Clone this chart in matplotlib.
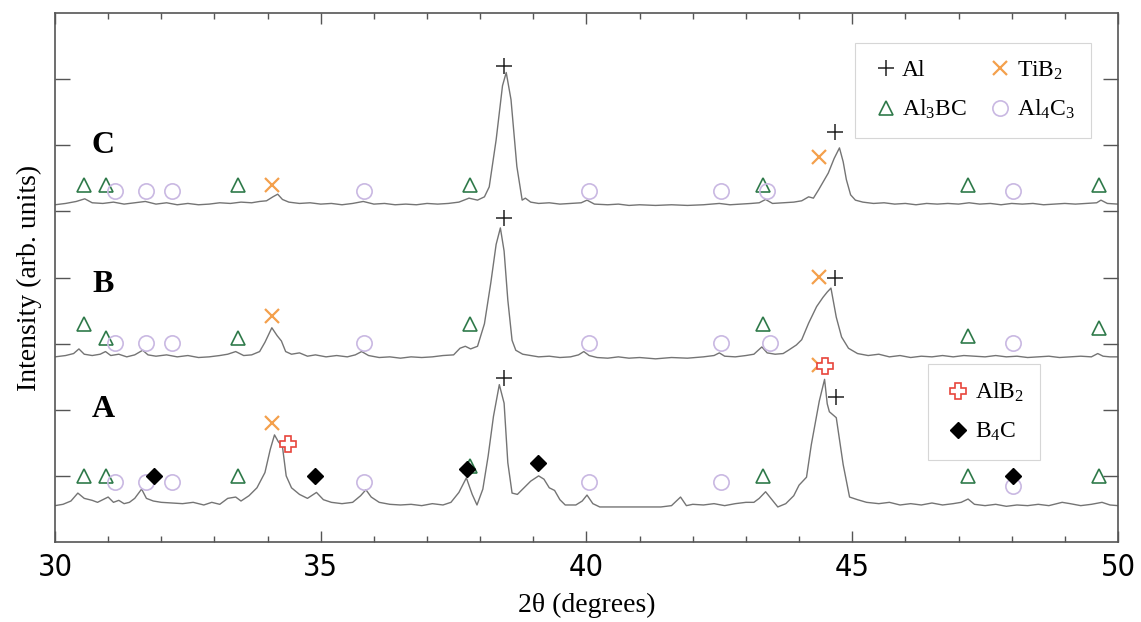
import matplotlib.pyplot as plt
from matplotlib.lines import Line2D
from matplotlib import font_manager

plt.rcParams.update({
    'font.family': ['Liberation Serif', 'DejaVu Serif'],
    'mathtext.fontset': 'custom',
    'mathtext.rm': 'Liberation Serif',
    'mathtext.default': 'regular',
})

# XRD traces (2theta, offset intensity)
curve_a = [
    (30.0, 0.55), (30.15, 0.57), (30.3, 0.62), (30.43, 0.74), (30.55, 0.66), (30.7, 0.63),
    (30.8, 0.6), (30.9, 0.64), (31.0, 0.68), (31.1, 0.6), (31.2, 0.63), (31.3, 0.58),
    (31.4, 0.6), (31.5, 0.66), (31.63, 0.8), (31.72, 0.66), (31.85, 0.62), (32.0, 0.6),
    (32.2, 0.59), (32.4, 0.58), (32.6, 0.6), (32.8, 0.56), (32.95, 0.6), (33.1, 0.57),
    (33.25, 0.66), (33.4, 0.68), (33.5, 0.62), (33.65, 0.7), (33.8, 0.82), (33.95, 1.05),
    (34.05, 1.4), (34.13, 1.62), (34.2, 1.52), (34.28, 1.44), (34.35, 1.0), (34.45, 0.82),
    (34.6, 0.72), (34.75, 0.66), (34.92, 0.75), (35.05, 0.64), (35.2, 0.6), (35.4, 0.58),
    (35.6, 0.6), (35.75, 0.7), (35.85, 0.79), (35.95, 0.68), (36.1, 0.6), (36.3, 0.57),
    (36.5, 0.56), (36.7, 0.57), (36.9, 0.55), (37.1, 0.58), (37.3, 0.56), (37.45, 0.6),
    (37.6, 0.75), (37.74, 0.97), (37.85, 0.72), (37.94, 0.56), (38.05, 0.8), (38.15, 1.3),
    (38.25, 1.9), (38.36, 2.38), (38.45, 2.1), (38.52, 1.2), (38.6, 0.74), (38.7, 0.72),
    (38.8, 0.8), (38.95, 0.92), (39.1, 1.0), (39.2, 0.95), (39.3, 0.82), (39.4, 0.78),
    (39.5, 0.64), (39.6, 0.56), (39.8, 0.56), (39.92, 0.62), (40.01, 0.71), (40.12, 0.58),
    (40.25, 0.53), (40.6, 0.53), (41.0, 0.53), (41.4, 0.53), (41.6, 0.55), (41.77, 0.68),
    (41.88, 0.55), (42.0, 0.57), (42.2, 0.56), (42.4, 0.58), (42.6, 0.55), (42.8, 0.58),
    (43.0, 0.6), (43.15, 0.6), (43.25, 0.66), (43.37, 0.76), (43.48, 0.65), (43.6, 0.53),
    (43.75, 0.58), (43.9, 0.7), (44.0, 0.86), (44.14, 0.98), (44.23, 1.47), (44.38, 2.13),
    (44.48, 2.46), (44.53, 2.09), (44.57, 1.97), (44.7, 1.88), (44.83, 1.17), (44.95, 0.68),
    (45.1, 0.64), (45.27, 0.6), (45.5, 0.58), (45.7, 0.6), (45.9, 0.56), (46.1, 0.58),
    (46.3, 0.56), (46.5, 0.59), (46.7, 0.56), (46.9, 0.58), (47.05, 0.6), (47.18, 0.65),
    (47.3, 0.57), (47.5, 0.55), (47.7, 0.57), (47.9, 0.54), (48.1, 0.56), (48.3, 0.55),
    (48.5, 0.57), (48.7, 0.55), (48.95, 0.6), (49.1, 0.58), (49.3, 0.55), (49.5, 0.57),
    (49.7, 0.6), (49.85, 0.56), (50.0, 0.55),
]

curve_b = [
    (30.0, 2.8), (30.2, 2.82), (30.35, 2.85), (30.45, 2.92), (30.55, 2.84), (30.7, 2.82),
    (30.85, 2.84), (30.95, 2.88), (31.05, 2.82), (31.2, 2.84), (31.35, 2.8), (31.5, 2.83),
    (31.65, 2.9), (31.75, 2.83), (31.9, 2.81), (32.1, 2.83), (32.3, 2.8), (32.5, 2.82),
    (32.7, 2.79), (32.9, 2.8), (33.1, 2.82), (33.25, 2.84), (33.4, 2.88), (33.55, 2.82),
    (33.7, 2.83), (33.85, 2.88), (33.95, 3.02), (34.08, 3.24), (34.18, 3.12), (34.26, 3.04),
    (34.34, 2.88), (34.45, 2.84), (34.6, 2.86), (34.75, 2.81), (34.9, 2.83), (35.1, 2.8),
    (35.3, 2.82), (35.5, 2.8), (35.65, 2.83), (35.77, 2.88), (35.9, 2.82), (36.1, 2.79),
    (36.3, 2.8), (36.5, 2.78), (36.7, 2.8), (36.9, 2.79), (37.1, 2.8), (37.3, 2.82),
    (37.5, 2.83), (37.62, 2.93), (37.72, 2.96), (37.82, 2.92), (37.95, 2.96), (38.08, 3.3),
    (38.2, 3.92), (38.3, 4.5), (38.38, 4.75), (38.45, 4.4), (38.52, 3.66), (38.6, 3.05),
    (38.67, 2.9), (38.8, 2.84), (38.95, 2.82), (39.1, 2.8), (39.3, 2.81), (39.5, 2.79),
    (39.7, 2.8), (39.85, 2.83), (39.95, 2.88), (40.05, 2.82), (40.2, 2.79), (40.4, 2.78),
    (40.6, 2.8), (40.8, 2.78), (41.0, 2.79), (41.3, 2.77), (41.6, 2.79), (41.9, 2.78),
    (42.2, 2.8), (42.4, 2.82), (42.5, 2.86), (42.6, 2.81), (42.8, 2.8), (43.0, 2.82),
    (43.15, 2.84), (43.3, 2.95), (43.4, 2.86), (43.55, 2.84), (43.7, 2.85), (43.8, 2.9),
    (43.95, 2.98), (44.05, 3.06), (44.18, 3.31), (44.33, 3.56), (44.45, 3.7), (44.53, 3.78),
    (44.6, 3.84), (44.7, 3.4), (44.8, 3.1), (44.93, 2.93), (45.1, 2.85), (45.3, 2.82),
    (45.5, 2.84), (45.7, 2.8), (45.9, 2.82), (46.1, 2.79), (46.3, 2.81), (46.5, 2.8),
    (46.7, 2.82), (46.9, 2.8), (47.1, 2.82), (47.3, 2.81), (47.5, 2.8), (47.7, 2.82),
    (47.9, 2.8), (48.1, 2.81), (48.3, 2.79), (48.5, 2.8), (48.7, 2.81), (48.9, 2.79),
    (49.1, 2.8), (49.3, 2.81), (49.5, 2.8), (49.62, 2.85), (49.72, 2.81), (49.85, 2.8),
    (50.0, 2.8),
]

curve_c = [
    (30.0, 5.1), (30.2, 5.12), (30.4, 5.15), (30.56, 5.19), (30.7, 5.13), (30.9, 5.12),
    (31.1, 5.14), (31.3, 5.11), (31.5, 5.13), (31.7, 5.15), (31.9, 5.11), (32.1, 5.13),
    (32.3, 5.1), (32.5, 5.12), (32.7, 5.1), (32.9, 5.11), (33.1, 5.13), (33.3, 5.12),
    (33.5, 5.14), (33.7, 5.13), (33.85, 5.15), (33.98, 5.16), (34.1, 5.22), (34.19, 5.26),
    (34.28, 5.18), (34.4, 5.14), (34.6, 5.12), (34.8, 5.13), (35.0, 5.11), (35.2, 5.12),
    (35.4, 5.1), (35.6, 5.12), (35.8, 5.15), (36.0, 5.11), (36.2, 5.12), (36.4, 5.1),
    (36.6, 5.11), (36.8, 5.1), (37.0, 5.12), (37.2, 5.11), (37.4, 5.12), (37.6, 5.14),
    (37.79, 5.2), (37.95, 5.17), (38.08, 5.22), (38.17, 5.37), (38.3, 6.08), (38.42, 6.9),
    (38.49, 7.1), (38.58, 6.69), (38.69, 5.68), (38.79, 5.17), (38.85, 5.2), (38.95, 5.14),
    (39.1, 5.12), (39.3, 5.13), (39.5, 5.11), (39.7, 5.12), (39.9, 5.13), (40.01, 5.17),
    (40.15, 5.11), (40.4, 5.1), (40.6, 5.11), (40.8, 5.09), (41.0, 5.1), (41.3, 5.09),
    (41.6, 5.1), (41.9, 5.09), (42.2, 5.1), (42.5, 5.12), (42.7, 5.1), (42.9, 5.11),
    (43.1, 5.12), (43.25, 5.13), (43.37, 5.18), (43.5, 5.12), (43.7, 5.13), (43.9, 5.14),
    (44.05, 5.16), (44.18, 5.22), (44.27, 5.2), (44.37, 5.33), (44.55, 5.58), (44.66, 5.8),
    (44.76, 5.96), (44.83, 5.75), (44.89, 5.48), (44.97, 5.25), (45.06, 5.17), (45.2, 5.14),
    (45.4, 5.12), (45.6, 5.13), (45.8, 5.11), (46.0, 5.12), (46.2, 5.1), (46.4, 5.12),
    (46.6, 5.11), (46.8, 5.12), (47.0, 5.11), (47.2, 5.13), (47.4, 5.11), (47.6, 5.12),
    (47.8, 5.1), (48.0, 5.12), (48.2, 5.11), (48.4, 5.12), (48.6, 5.1), (48.8, 5.11),
    (49.0, 5.12), (49.2, 5.11), (49.4, 5.12), (49.6, 5.13), (49.68, 5.17), (49.8, 5.12),
    (50.0, 5.11),
]

# phase markers (2theta, height)
al_pts = [(38.45, 7.2), (44.67, 6.2), (38.45, 4.9), (44.67, 3.99), (38.45, 2.48), (44.7, 2.19)]
tib2_pts = [(34.09, 5.4), (44.37, 5.82), (34.09, 3.42), (44.38, 4.01), (34.09, 1.8), (44.38, 2.68)]
al3bc_pts = [
    (30.54, 5.4), (30.96, 5.4), (33.44, 5.4), (37.81, 5.4), (43.33, 5.4), (47.18, 5.4), (49.64, 5.4),
    (30.54, 3.3), (30.96, 3.09), (33.44, 3.09), (37.81, 3.3), (43.33, 3.3), (47.18, 3.12), (49.64, 3.24),
    (30.54, 1.0), (30.96, 1.0), (33.44, 1.0), (37.81, 1.15), (43.33, 1.0), (47.18, 1.0), (49.64, 1.0),
]
al4c3_pts = [
    (31.13, 5.31), (31.71, 5.31), (32.2, 5.31), (35.82, 5.31), (40.05, 5.31), (42.53, 5.31), (43.39, 5.31), (48.03, 5.31),
    (31.13, 3.01), (31.71, 3.01), (32.2, 3.01), (35.82, 3.01), (40.05, 3.01), (42.53, 3.01), (43.45, 3.01), (48.03, 3.01),
    (31.13, 0.91), (31.71, 0.91), (32.2, 0.91), (35.82, 0.91), (40.05, 0.91), (42.53, 0.91), (48.03, 0.85),
]
alb2_pts = [(34.38, 1.48), (44.48, 2.66)]
b4c_pts = [(31.86, 1.0), (34.9, 1.0), (37.76, 1.1), (39.09, 1.2), (48.03, 1.0)]

sample_labels = ['A', 'B', 'C']
label_pos = [(30.9, 2.0), (30.9, 3.89), (30.9, 6.0)]

fig = plt.figure(figsize=(11.41, 6.22), dpi=100)
ax = fig.add_axes([0.0482, 0.1286, 0.9316, 0.8505])

for curve in (curve_a, curve_b, curve_c):
    xs, ys = zip(*curve)
    ax.plot(xs, ys, color='#747474', lw=1.0, zorder=2)

def unzip(pts):
    return [p[0] for p in pts], [p[1] for p in pts]

x, y = unzip(al3bc_pts)
ax.plot(x, y, ls='none', marker='^', ms=10, mfc='none', mec='#2f7a4a', mew=1.2, zorder=3)
x, y = unzip(al4c3_pts)
ax.plot(x, y, ls='none', marker='o', ms=11, mfc='none', mec='#c9b8e2', mew=1.2, zorder=3)
x, y = unzip(b4c_pts)
ax.plot(x, y, ls='none', marker='D', ms=8, color='black', zorder=4)
x, y = unzip(tib2_pts)
ax.plot(x, y, ls='none', marker='x', ms=10, mec='#f4a04c', mew=1.6, zorder=4)
x, y = unzip(alb2_pts)
ax.plot(x, y, ls='none', marker='P', ms=11, mfc='white', mec='#e8453c', mew=1.2, zorder=5)
x, y = unzip(al_pts)
ax.plot(x, y, ls='none', marker='+', ms=11, mec='#222222', mew=1.1, zorder=4)

for lab, (lx, ly) in zip(sample_labels, label_pos):
    ax.text(lx, ly, lab, fontsize=23, fontweight='bold', ha='center', va='center')

ax.set_xlim(30, 50)
ax.set_ylim(0, 8)
ax.set_xticks([30, 35, 40, 45, 50])
ax.set_xticks(range(30, 51), minor=True)
ax.set_yticks(range(1, 8))
ax.set_yticklabels([])
ax.tick_params(axis='x', which='major', direction='in', length=8, width=1, top=True,
               colors='#555555', labelcolor='black', labelsize=22, pad=8)
ax.tick_params(axis='x', which='minor', direction='in', length=4.5, width=1, top=True,
               colors='#555555')
ax.tick_params(axis='y', which='major', direction='in', length=11, width=1, right=True,
               colors='#555555')

# narrow face for the tick numbers, if one is installed
narrow = None
for f in font_manager.fontManager.ttflist:
    if 'Narrow' in f.name or f.stretch in ('condensed', 'semi-condensed'):
        narrow = f.name
        break
for lbl in ax.get_xticklabels():
    if narrow:
        lbl.set_family(narrow)
        lbl.set_stretch('condensed')
    else:
        lbl.set_family('Liberation Sans')
        lbl.set_fontsize(20)
for sp in ax.spines.values():
    sp.set_color('#555555')
    sp.set_linewidth(1.2)

ax.set_xlabel('2θ (degrees)', fontsize=20, labelpad=8)
ax.set_ylabel('Intensity (arb. units)', fontsize=20, labelpad=6)

def handle(marker, **kw):
    return Line2D([], [], ls='none', marker=marker, **kw)

h_al = handle('+', ms=11, mec='#222222', mew=1.1)
h_tib2 = handle('x', ms=10, mec='#f4a04c', mew=1.6)
h_al3bc = handle('^', ms=10, mfc='none', mec='#2f7a4a', mew=1.2)
h_al4c3 = handle('o', ms=11, mfc='none', mec='#c9b8e2', mew=1.2)
leg1 = ax.legend([h_al, h_al3bc, h_tib2, h_al4c3],
                 ['Al', 'Al$_3$BC', 'TiB$_2$', 'Al$_4$C$_3$'],
                 ncol=2, loc='upper right', bbox_to_anchor=(0.986, 0.966),
                 fontsize=17, frameon=True, fancybox=False, edgecolor='#cccccc',
                 handletextpad=0.1, columnspacing=0.8, labelspacing=0.7,
                 handlelength=1.2, borderpad=0.7)
leg1.get_frame().set_linewidth(0.8)
ax.add_artist(leg1)

h_alb2 = handle('P', ms=11, mfc='white', mec='#e8453c', mew=1.2)
h_b4c = handle('D', ms=8, color='black')
leg2 = ax.legend([h_alb2, h_b4c], ['AlB$_2$', 'B$_4$C'],
                 loc='upper right', bbox_to_anchor=(0.938, 0.358),
                 fontsize=17, frameon=True, fancybox=False, edgecolor='#cccccc',
                 handletextpad=0.1, labelspacing=0.7, handlelength=1.2, borderpad=0.7)
leg2.get_frame().set_linewidth(0.8)

fig.savefig('out.png', dpi=100)
